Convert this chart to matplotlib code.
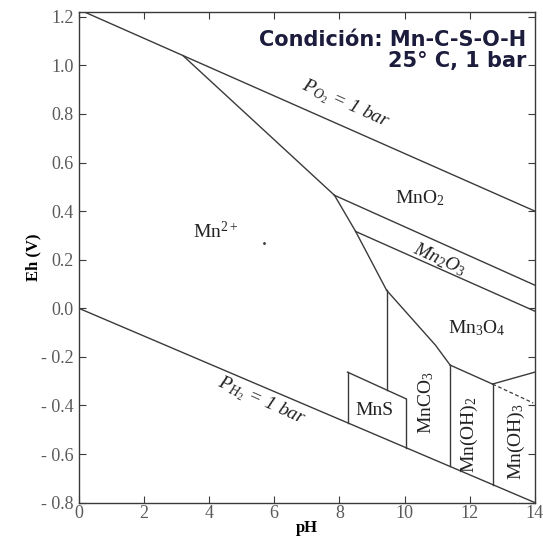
import matplotlib
matplotlib.use("Agg")
import matplotlib.pyplot as plt

plt.rcParams["mathtext.fontset"] = "custom"
plt.rcParams["mathtext.rm"] = "Liberation Serif"
plt.rcParams["mathtext.it"] = "Liberation Serif:italic"
plt.rcParams["mathtext.bf"] = "Liberation Serif:bold"

# water stability limits (pH, Eh)
o2_ph = [0, 14]
o2_eh = [1.23, 0.40]
h2_ph = [0, 14]
h2_eh = [0.0, -0.80]

# phase boundaries, each a polyline of (pH, Eh)
boundaries = {
    "Mn2+/MnO2": ([3.2, 7.85], [1.04, 0.465]),
    "MnO2/Mn2O3": ([7.85, 14], [0.465, 0.095]),
    "Mn2+/Mn2O3": ([7.85, 8.5], [0.465, 0.316]),
    "Mn2O3/Mn3O4": ([8.5, 14], [0.316, -0.012]),
    "Mn2+/Mn3O4": ([8.5, 9.45], [0.316, 0.074]),
    "Mn2+/MnCO3": ([9.45, 9.45], [0.074, -0.337]),
    "MnS top": ([8.25, 10.05], [-0.263, -0.373]),
    "MnS left": ([8.25, 8.25], [-0.263, -0.471]),
    "MnS right": ([10.05, 10.05], [-0.373, -0.574]),
    "Mn3O4/MnCO3": ([9.45, 10.95, 11.4], [0.074, -0.152, -0.234]),
    "Mn3O4/Mn(OH)2": ([11.4, 12.7], [-0.234, -0.312]),
    "Mn3O4/Mn(OH)3": ([12.7, 14], [-0.312, -0.263]),
    "MnCO3/Mn(OH)2": ([11.4, 11.4], [-0.234, -0.651]),
    "Mn(OH)2/Mn(OH)3": ([12.7, 12.7], [-0.312, -0.726]),
}
dashed_ph = [12.7, 13.95]
dashed_eh = [-0.312, -0.39]

xticks = [0, 2, 4, 6, 8, 10, 12, 14]
yticks = [1.2, 1.0, 0.8, 0.6, 0.4, 0.2, 0.0, -0.2, -0.4, -0.6, -0.8]
ytick_labels = ["1.2", "1.0", "0.8", "0.6", "0.4", "0.2", "0.0",
                "- 0.2", "- 0.4", "- 0.6", "- 0.8"]

lc = "#3a3a3a"
serif = "Liberation Serif"

fig = plt.figure(figsize=(5.43, 5.41), dpi=100)
ax = fig.add_axes([0.145, 0.071, 0.84, 0.907])
ax.set_xlim(0, 14)
ax.set_ylim(-0.8, 1.22)

ax.plot(o2_ph, o2_eh, color=lc, lw=1.0)
ax.plot(h2_ph, h2_eh, color=lc, lw=1.0)
for name, (px, py) in boundaries.items():
    ax.plot(px, py, color=lc, lw=1.0)
ax.plot(dashed_ph, dashed_eh, color=lc, lw=0.9, ls=(0, (3, 2)))
ax.plot([5.7], [0.27], marker=".", ms=2, color=lc)

ax.set_xticks(xticks)
ax.set_yticks(yticks)
ax.set_yticklabels(ytick_labels)
ax.tick_params(direction="in", length=5, width=0.8, colors=lc,
               labelcolor="#5a5a5a", labelsize=13,
               top=True, right=True)
ax.tick_params(axis="x", pad=2)
for lab in ax.get_xticklabels() + ax.get_yticklabels():
    lab.set_family(serif)
for sp in ax.spines.values():
    sp.set_color(lc)
    sp.set_linewidth(1.0)

ax.set_xlabel("pH", family=serif, fontweight="bold", fontsize=12, labelpad=-2)
ax.set_ylabel("Eh (V)", family=serif, fontweight="bold", fontsize=12, labelpad=0)

txt = dict(family=serif, fontsize=14, color="#222222", ha="center", va="center")
ax.text(4.2, 0.316, "Mn$^{2+}$", **txt)
ax.text(10.46, 0.452, "MnO$_2$", **txt)
ax.text(11.07, 0.2, "Mn$_2$O$_3$", rotation=-24, fontstyle="italic", **txt)
ax.text(12.2, -0.08, "Mn$_3$O$_4$", **txt)
ax.text(9.08, -0.42, "MnS", **txt)
ax.text(10.67, -0.39, "MnCO$_3$", rotation=90, **txt)
ax.text(12.0, -0.52, "Mn(OH)$_2$", rotation=90, **txt)
ax.text(13.43, -0.55, "Mn(OH)$_3$", rotation=90, **txt)
ax.text(8.2, 0.84, "P$_{O_2}$ = 1 bar", rotation=-24, fontstyle="italic", **txt)
ax.text(5.6, -0.385, "P$_{H_2}$ = 1 bar", rotation=-24, fontstyle="italic", **txt)

title_kw = dict(ha="right", va="baseline", family="DejaVu Sans",
                fontweight="bold", fontsize=15, color="#1c1c3c")
ax.text(13.74, 1.081, "Condición: Mn-C-S-O-H", **title_kw)
ax.text(13.74, 0.995, "25° C, 1 bar", **title_kw)

fig.savefig("out.png", dpi=100)
